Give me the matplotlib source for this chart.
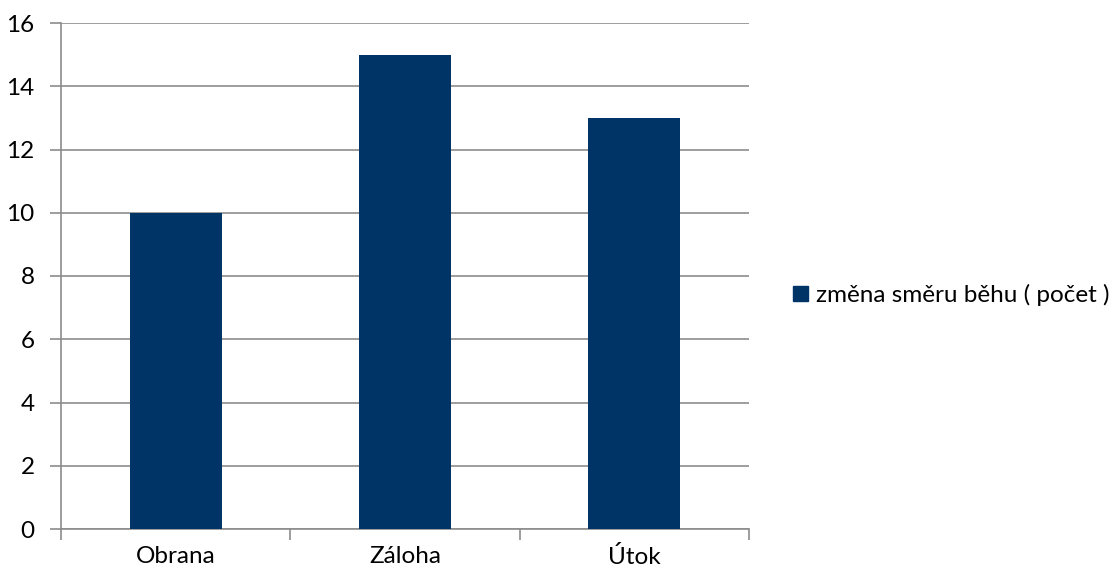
import matplotlib
matplotlib.use("Agg")
import matplotlib.pyplot as plt
from matplotlib.patches import Patch

categories = ["Obrana", "Záloha", "Útok"]
values = [10, 15, 13]
series_name = "změna směru běhu ( počet )"
yticks = [0, 2, 4, 6, 8, 10, 12, 14, 16]

plt.rcParams['font.family'] = ['Lato', 'DejaVu Sans']
fs = 17.5
fig = plt.figure(figsize=(11.19, 5.73), dpi=100)
ax = fig.add_axes([61/1119, 44/573, 688/1119, 506/573])
color = "#003366"
grey = "#8c8c8c"
x = [i + 0.5 for i in range(len(categories))]
ax.bar(x, values, width=0.4, color=color, zorder=3)
ax.set_xlim(0, len(categories))
ax.set_ylim(0, 16)
ax.set_yticks(yticks)
ax.set_yticklabels([str(v) for v in yticks], fontsize=fs)
ax.yaxis.grid(True, color=grey, linewidth=1.2, zorder=0)
ax.set_xticks(range(len(categories) + 1))
ax.set_xticklabels([])
ax.set_xticks(x, minor=True)
ax.set_xticklabels(categories, minor=True, fontsize=fs)
ax.tick_params(axis='x', which='minor', length=0, pad=12)
ax.tick_params(axis='x', which='major', length=8, color=grey, width=1.2)
ax.tick_params(axis='y', length=8, color=grey, width=1.2, pad=11)
for s in ['top', 'right']:
    ax.spines[s].set_visible(False)
for s in ['left', 'bottom']:
    ax.spines[s].set_color(grey)
    ax.spines[s].set_linewidth(1.2)

fig.legend(handles=[Patch(color=color, label=series_name)],
           loc='center left', bbox_to_anchor=(793/1119, 1 - 295/573),
           frameon=False, fontsize=fs, handlelength=0.6, handleheight=0.6,
           handletextpad=0.35, borderaxespad=0, borderpad=0)
fig.savefig("out.png", dpi=100)
